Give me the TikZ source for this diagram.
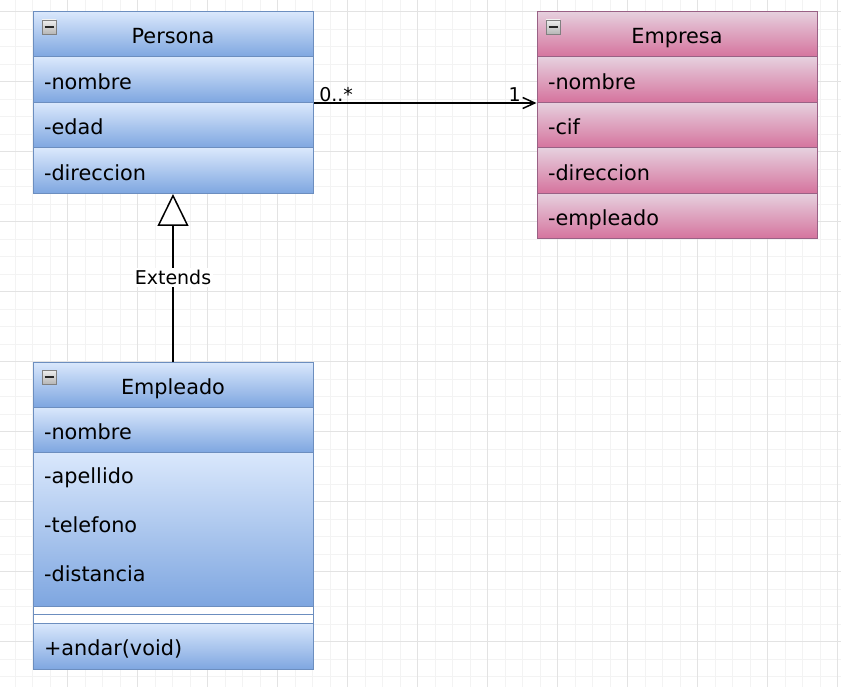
\documentclass[tikz,border=0pt]{standalone}
\usepackage{fontspec}
\setmainfont{DejaVu Sans}
\usetikzlibrary{arrows.meta}
\definecolor{blueTop}{HTML}{DAE8FC}
\definecolor{blueBot}{HTML}{7EA6E0}
\definecolor{blueLine}{HTML}{6C8EBF}
\definecolor{pinkTop}{HTML}{E6D0DE}
\definecolor{pinkBot}{HTML}{D5739D}
\definecolor{pinkLine}{HTML}{996185}
\definecolor{gridMinor}{HTML}{F3F3F3}
\definecolor{gridMajor}{HTML}{E3E3E3}
\definecolor{iconTop}{HTML}{EEEEEE}
\definecolor{iconBot}{HTML}{B4B4B4}
\newcommand{\umlfont}{\fontsize{20.8}{24}\selectfont}
\newcommand{\labfont}{\fontsize{19}{22}\selectfont}
\tikzset{
  cell/.style={rectangle, minimum width=280pt, inner xsep=11pt, inner ysep=0pt, line width=1pt},
  row/.style={cell, minimum height=45.5pt, text width=258pt, align=left, text height=19pt, text depth=0pt, font=\umlfont},
  head/.style={row, align=center},
  blueCell/.style={top color=blueTop, bottom color=blueBot, draw=blueLine},
  pinkCell/.style={top color=pinkTop, bottom color=pinkBot, draw=pinkLine},
  blankCell/.style={cell, fill=white, draw=blueLine, minimum height=8.5pt},
  attr/.style={anchor=base west, inner sep=0pt, font=\umlfont},
  icon/.style={top color=iconTop, bottom color=iconBot, draw=gray, line width=0.8pt},
  iconMinus/.style={line width=2pt, black!85},
  mult/.style={inner sep=0pt, font=\labfont},
  extLabel/.style={fill=white, inner sep=2pt, font=\labfont},
  assoc/.style={line width=1.5pt, -{Straight Barb[length=12pt, width=11pt]}},
  extends/.style={line width=1.5pt, -{Triangle[length=32pt, width=31pt, fill=white]}}
}

\begin{document}
\begin{tikzpicture}[x=1pt, y=-1pt]
\useasboundingbox[fill=white] (0,0) rectangle (841,687);
\foreach \gx in {-2.7,14.8,...,841} \draw[gridMinor] (\gx,0) -- (\gx,687);
\foreach \gy in {-6.2,11.3,...,687} \draw[gridMinor] (0,\gy) -- (841,\gy);
\foreach \gx in {-2.7,67.3,...,841} \draw[gridMajor] (\gx,0) -- (\gx,687);
\foreach \gy in {11.3,81.3,...,687} \draw[gridMajor] (0,\gy) -- (841,\gy);

\begin{scope}[shift={(173,0)}]
\path (0,34.25) node[head, blueCell] (persona) {Persona};
\path (0,79.75) node[row, blueCell] (personaNombre) {-nombre};
\path (0,125.25) node[row, blueCell] (personaEdad) {-edad};
\path (0,170.75) node[row, blueCell] (personaDireccion) {-direccion};
\draw[icon] (-131,20) rectangle (-117,34.5);
\draw[iconMinus] (-128.5,27.2) -- (-119.5,27.2);
\end{scope}

\begin{scope}[shift={(677,0)}]
\path (0,34.25) node[head, pinkCell] (empresa) {Empresa};
\path (0,79.75) node[row, pinkCell] (empresaNombre) {-nombre};
\path (0,125.25) node[row, pinkCell] (empresaCif) {-cif};
\path (0,170.75) node[row, pinkCell] (empresaDireccion) {-direccion};
\path (0,216.25) node[row, pinkCell] (empresaEmpleado) {-empleado};
\draw[icon] (-131,20) rectangle (-117,34.5);
\draw[iconMinus] (-128.5,27.2) -- (-119.5,27.2);
\end{scope}

\begin{scope}[shift={(173,0)}]
\path (0,384.5) node[head, blueCell, minimum height=45pt] (empleado) {Empleado};
\path (0,429.75) node[row, blueCell] (empleadoNombre) {-nombre};
\path (0,529.25) node[cell, blueCell, minimum height=153.5pt] (empleadoAtributos) {};
\path (-129,483.3) node[attr] (empleadoApellido) {-apellido};
\path (-129,532.7) node[attr] (empleadoTelefono) {-telefono};
\path (-129,581.7) node[attr] (empleadoDistancia) {-distancia};
\path (0,610.25) node[blankCell] (empleadoSepA) {};
\path (0,618.75) node[blankCell] (empleadoSepB) {};
\path (0,646.25) node[row, blueCell, minimum height=46.5pt] (empleadoAndar) {+andar(void)};
\draw[icon] (-131,370) rectangle (-117,384.5);
\draw[iconMinus] (-128.5,377.2) -- (-119.5,377.2);
\end{scope}

\draw[assoc] (personaNombre.south east) -- node[pos=0, mult, anchor=south west, xshift=5pt, yshift=0.5pt] (multMuchos) {0..*} node[pos=1, mult, anchor=south east, xshift=-15pt, yshift=0.5pt] (multUno) {1} (empresaNombre.south west);
\draw[extends] (empleado.north) -- node[extLabel] (extendsLabel) {Extends} (personaDireccion.south);
\end{tikzpicture}
\end{document}
